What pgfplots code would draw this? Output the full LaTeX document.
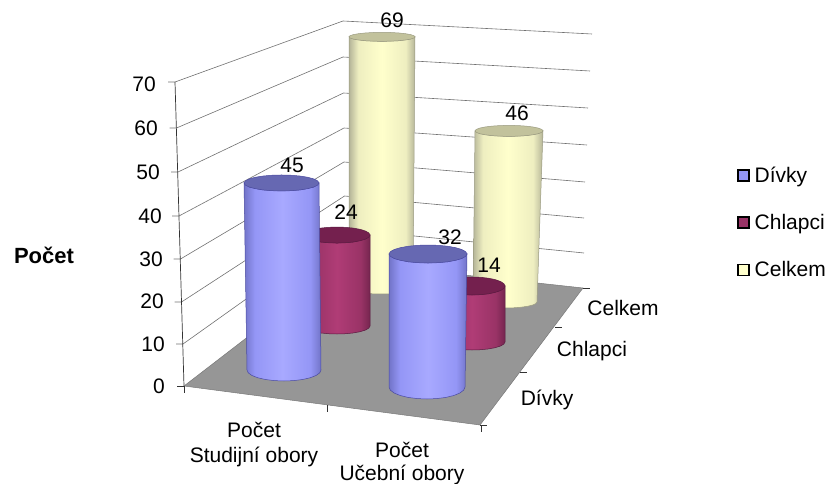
\documentclass[border=0pt]{standalone}
\usepackage{fontspec}
\setmainfont{Liberation Sans}
\usepackage{pgfplots}
\usepackage{pgfplotstable}
\pgfplotsset{compat=1.18}

\definecolor{topA}{HTML}{6668B2}
\definecolor{topB}{HTML}{74204E}
\definecolor{topC}{HTML}{C2C29C}
\definecolor{edgeA}{HTML}{4A4AA0}
\definecolor{edgeB}{HTML}{5A1A40}
\definecolor{edgeC}{HTML}{9A9A80}
\definecolor{floorgray}{HTML}{969696}
\definecolor{gridgray}{HTML}{707070}
\definecolor{HA1}{HTML}{7274C8}
\definecolor{HA2}{HTML}{9496F6}
\definecolor{HA3}{HTML}{A8A9FF}
\definecolor{HB1}{HTML}{75254F}
\definecolor{HB2}{HTML}{993366}
\definecolor{HB3}{HTML}{B03C76}
\definecolor{HC1}{HTML}{B4B498}
\definecolor{HC2}{HTML}{EEEEC0}
\definecolor{HC3}{HTML}{FFFFCC}

\pgfdeclarehorizontalshading{cylA}{100bp}{color(0bp)=(HA1); color(25bp)=(HA1); color(32bp)=(HA2); color(50bp)=(HA3); color(68bp)=(HA2); color(75bp)=(HA1); color(100bp)=(HA1)}
\pgfdeclarehorizontalshading{cylB}{100bp}{color(0bp)=(HB1); color(25bp)=(HB1); color(32bp)=(HB2); color(50bp)=(HB3); color(68bp)=(HB2); color(75bp)=(HB1); color(100bp)=(HB1)}
\pgfdeclarehorizontalshading{cylC}{100bp}{color(0bp)=(HC1); color(25bp)=(HC1); color(32bp)=(HC2); color(50bp)=(HC3); color(68bp)=(HC2); color(75bp)=(HC1); color(100bp)=(HC1)}

% unit outline of a cylinder: t=0 bottom rim, t=1 top rim
\pgfplotstableread{
c s t
-1 0 0
-0.966 0.259 0
-0.866 0.5 0
-0.707 0.707 0
-0.5 0.866 0
-0.259 0.966 0
0 1 0
0.259 0.966 0
0.5 0.866 0
0.707 0.707 0
0.866 0.5 0
0.966 0.259 0
1 0 0
1 0 1
0.866 0.5 1
0.5 0.866 1
0 1 1
-0.5 0.866 1
-0.866 0.5 1
-1 0 1
}\bodyoutline
\pgfplotstableread{
c s
1 0
0.966 0.259
0.866 0.5
0.707 0.707
0.5 0.866
0.259 0.966
0 1
-0.259 0.966
-0.5 0.866
-0.707 0.707
-0.866 0.5
-0.966 0.259
-1 0
-0.966 -0.259
-0.866 -0.5
-0.707 -0.707
-0.5 -0.866
-0.259 -0.966
0 -1
0.259 -0.966
0.5 -0.866
0.707 -0.707
0.866 -0.5
0.966 -0.259
}\rimoutline

% #1 series letter, #2 value, #3 px per unit, #4-#7 bottom cx cy rx ry, #8 top cx, #9 top ry (\rxt = top rx)
\newcommand{\cylinder}[9]{%
  \addplot[shade, shading=cyl#1, shading angle=0, draw=edge#1, line width=0.5pt, forget plot]
    table[x expr={(1-\thisrow{t})*(#4+#6*\thisrow{c})+\thisrow{t}*(#8+\rxt*\thisrow{c})},
          y expr={(1-\thisrow{t})*(#5+#7*\thisrow{s})+\thisrow{t}*(#5-#2*#3+#9*\thisrow{s})}]
    {\bodyoutline} -- cycle;
  \addplot[fill=top#1, draw=edge#1, line width=0.5pt, forget plot]
    table[x expr={#8+\rxt*\thisrow{c}}, y expr={#5-#2*#3+#9*\thisrow{s}}]
    {\rimoutline} -- cycle;
}

\begin{document}
\begin{tikzpicture}
\path[use as bounding box] (0,0) rectangle (828pt,484pt);
\begin{axis}[
  at={(0,0)}, anchor=south west,
  width=828pt, height=484pt, scale only axis,
  xmin=0, xmax=828, ymin=0, ymax=484, y dir=reverse,
  hide axis, clip=false,
  font=\fontsize{21}{24}\selectfont,
  legend style={at={(axis cs:737,167)}, anchor=north west, draw=none, fill=none,
    row sep=30.5pt, inner sep=0pt, outer sep=0pt,
    nodes={inner sep=0pt, font=\fontsize{21}{24}\selectfont}},
  legend cell align=left,
  legend image code/.code={\draw[line width=1.7pt,#1] (0pt,-5.5pt) rectangle (11pt,5.5pt);},
]
% side walls: tick, left wall, right wall
\addplot[gridgray, line width=0.6pt, forget plot] coordinates {(168,82)(175,82)(343,21)(592,34)};
\addplot[gridgray, line width=0.6pt, forget plot] coordinates {(169.5,128)(176.5,128)(343,57)(590,71)};
\addplot[gridgray, line width=0.6pt, forget plot] coordinates {(171,172)(178,172)(343.5,93)(588,108)};
\addplot[gridgray, line width=0.6pt, forget plot] coordinates {(172,216)(179,216)(344,128)(587,145)};
\addplot[gridgray, line width=0.6pt, forget plot] coordinates {(173.5,259)(180.5,259)(344,162)(585,182)};
\addplot[gridgray, line width=0.6pt, forget plot] coordinates {(174.5,302)(181.5,302)(344.5,196)(584,218)};
\addplot[gridgray, line width=0.6pt, forget plot] coordinates {(176,344)(183,344)(344.5,229)(584,253)};
\addplot[black!80, line width=0.7pt, forget plot] coordinates {(175,82)(184,386)};
% floor
\addplot[fill=floorgray, draw=floorgray!80!black, line width=0.5pt, forget plot]
  coordinates {(184,386)(345,262)(583,288)(480,425)} -- cycle;
\addplot[black!80, line width=0.7pt, forget plot] coordinates {(177,386)(184,386)(184,393)};
\addplot[black!80, line width=0.7pt, forget plot] coordinates {(327,405)(327,412)};
\addplot[black!80, line width=0.7pt, forget plot] coordinates {(481,425)(481,432)};
\addplot[black!80, line width=0.7pt, forget plot] coordinates {(480,425)(487,425)};
\addplot[black!80, line width=0.7pt, forget plot] coordinates {(520,372)(527,372)};
\addplot[black!80, line width=0.7pt, forget plot] coordinates {(555,327)(562,327)};
\addplot[black!80, line width=0.7pt, forget plot] coordinates {(583,288)(590,288)};

% cylinders, back row first
\def\rxt{33}
\cylinder{C}{69}{3.64}{381}{288}{32}{6}{382}{4.5}
\def\rxt{34}
\cylinder{C}{46}{3.72}{505}{302}{32}{6}{509}{5.5}
\def\rxt{33}
\cylinder{B}{24}{3.79}{337}{326}{33}{8}{337}{8}
\def\rxt{33}
\cylinder{B}{14}{4.0}{472}{342}{33}{8}{472}{9}
\def\rxt{37.5}
\cylinder{A}{45}{4.156}{284}{370}{37}{11}{281.5}{8}
\def\rxt{39}
\cylinder{A}{32}{4.156}{427}{387}{38}{12}{428}{9}

% value labels
\node at (axis cs:292,165) {45};
\node at (axis cs:392,20) {69};
\node at (axis cs:346,212) {24};
\node at (axis cs:517,113) {46};
\node at (axis cs:450,237) {32};
\node at (axis cs:489,265) {14};

% value axis labels
\node[anchor=east, inner sep=0pt] at (axis cs:156,84) {70};
\node[anchor=east, inner sep=0pt] at (axis cs:158,128) {60};
\node[anchor=east, inner sep=0pt] at (axis cs:160,172) {50};
\node[anchor=east, inner sep=0pt] at (axis cs:162,216) {40};
\node[anchor=east, inner sep=0pt] at (axis cs:163,259) {30};
\node[anchor=east, inner sep=0pt] at (axis cs:164,301) {20};
\node[anchor=east, inner sep=0pt] at (axis cs:165,344) {10};
\node[anchor=east, inner sep=0pt] at (axis cs:165,386) {0};
\node at (axis cs:44,255) {\fontsize{22}{24}\selectfont\bfseries Počet};

% category labels
\node at (axis cs:254,430) {Počet};
\node at (axis cs:254,457) {Studijní obory};
\node at (axis cs:402,450) {Počet};
\node at (axis cs:402,475) {Učební obory};
\node at (axis cs:623,308) {Celkem};
\node at (axis cs:592,351) {Chlapci};
\node at (axis cs:547,400) {Dívky};

\addlegendimage{fill=HA2, draw=black}
\addlegendentry{\hspace{5pt}Dívky}
\addlegendimage{fill=HB2, draw=black}
\addlegendentry{\hspace{5pt}Chlapci}
\addlegendimage{fill=HC3, draw=black}
\addlegendentry{\hspace{5pt}Celkem}
\end{axis}
\end{tikzpicture}
\end{document}
